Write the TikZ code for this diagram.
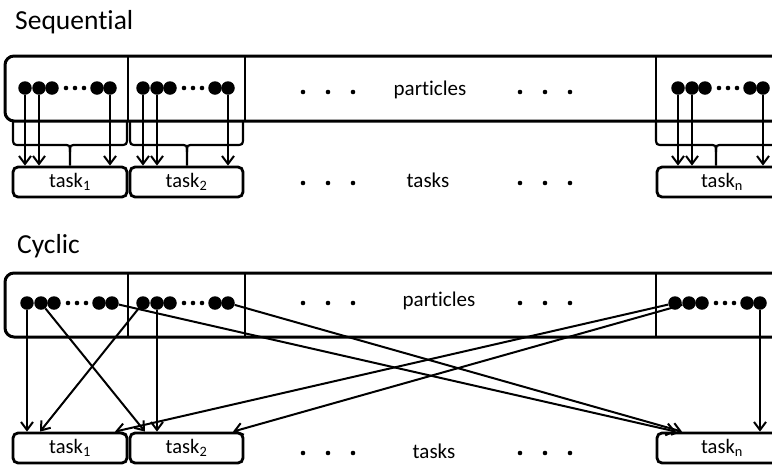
\documentclass[tikz,border=0pt]{standalone}
\usepackage{fontspec}
\setmainfont{Carlito}[Ligatures=NoCommon]
\usetikzlibrary{arrows.meta,calc}

\tikzset{
  pbox/.style={line width=3pt, rounded corners=9pt},
  divider/.style={line width=2.2pt},
  bigdot/.style={circle, fill=black, inner sep=0pt, minimum size=13.5pt},
  smalldot/.style={circle, fill=black, inner sep=0pt, minimum size=4.6pt},
  taskbox/.style={draw, line width=2.8pt, rounded corners=5pt, minimum height=30pt,
    inner sep=0pt, font=\fontsize{20.5}{24}\selectfont},
  link/.style={line width=2pt, -{Straight Barb[length=8pt,width=12pt]}},
  bracepath/.style={line width=2.2pt},
  headtext/.style={font=\fontsize{27.5}{32}\selectfont, anchor=base west, inner sep=0pt},
  rowtext/.style={font=\fontsize{21}{25}\selectfont, inner sep=0pt}
}

% one block of particles: three dots, a gap of small dots, two dots
\newcommand{\dotgroup}[3]{%
  \node[bigdot]   (#1a) at (#2,#3) {};
  \node[bigdot]   (#1b) at ({#2+14},#3) {};
  \node[bigdot]   (#1c) at ({#2+27},#3) {};
  \node[smalldot] (#1d) at ({#2+41},#3) {};
  \node[smalldot] (#1e) at ({#2+50},#3) {};
  \node[smalldot] (#1f) at ({#2+59},#3) {};
  \node[bigdot]   (#1g) at ({#2+72},#3) {};
  \node[bigdot]   (#1h) at ({#2+85},#3) {};
}

% three spaced dots standing for the elided columns
\newcommand{\ellipsisdots}[3]{%
  \node[smalldot] (#1a) at (#2,#3) {};
  \node[smalldot] (#1b) at ({#2+25},#3) {};
  \node[smalldot] (#1c) at ({#2+50},#3) {};
}

% brace under a block: left end, cusp, right end, top y, bar y, task node
\newcommand{\blockbrace}[6]{%
  \draw[bracepath] (#1,#4) -- (#1,{#5-8}) .. controls (#1,#5) .. ({#1+8},#5)
    -- ({#2-7},#5) .. controls (#2,#5) .. (#2,{#5+7}) -- (#6.north -| #2,0);
  \draw[bracepath] (#2,{#5+7}) .. controls (#2,#5) .. ({#2+7},#5)
    -- ({#3-8},#5) .. controls (#3,#5) .. (#3,{#5-8}) -- (#3,#4);
}

\begin{document}
\begin{tikzpicture}[x=1pt, y=-1pt]
\useasboundingbox (0,0) rectangle (772,464);
\clip (0,0) rectangle (772,464);

% ---------------- Sequential ----------------
\node[headtext] (seqtitle) at (15,29) {Sequential};

\draw[pbox] (800,56) -- (5,56) -- (5,121) -- (800,121);
\draw[divider] (128,56) -- (128,121);
\draw[divider] (245,56) -- (245,121);
\draw[divider] (656,56) -- (656,121);

\dotgroup{s1}{25}{88}
\dotgroup{s2}{143}{88}
\dotgroup{sn}{678}{88}
\ellipsisdots{sp1}{303}{92}
\ellipsisdots{sp2}{520}{92}
\node[rowtext] (seqparticles) at (430,90) {particles};

\node[taskbox, minimum width=114pt] (st1) at (70,182) {task\textsubscript{1}};
\node[taskbox, minimum width=113pt] (st2) at (186.5,182) {task\textsubscript{2}};
\node[taskbox, minimum width=130pt] (stn) at (722,182) {task\textsubscript{n}};
\ellipsisdots{st1d}{303}{183}
\ellipsisdots{st2d}{520}{183}
\node[rowtext] (seqtasks) at (428,180) {tasks};

\blockbrace{13}{70}{127}{121}{145}{st1}
\blockbrace{130}{187}{243}{121}{145}{st2}
\blockbrace{656}{716}{776}{121}{145}{stn}

\foreach \g/\t in {s1/st1, s2/st2, sn/stn}{
  \draw[link] (\g a) -- (\g a |- \t.north);
  \draw[link] (\g b) -- (\g b |- \t.north);
  \draw[link] (\g h) -- (\g h |- \t.north);
}

% ---------------- Cyclic ----------------
\node[headtext] (cyctitle) at (17,253) {Cyclic};

\draw[pbox] (800,273) -- (5,273) -- (5,337) -- (800,337);
\draw[divider] (128,273) -- (128,337);
\draw[divider] (245,273) -- (245,337);
\draw[divider] (656,273) -- (656,337);

\dotgroup{c1}{27}{303}
\dotgroup{c2}{143}{303}
\dotgroup{cn}{675}{303}
\ellipsisdots{cp1}{303}{303}
\ellipsisdots{cp2}{520}{303}
\node[rowtext] (cycparticles) at (439,301) {particles};

\node[taskbox, minimum width=114pt] (ct1) at (70,448) {task\textsubscript{1}};
\node[taskbox, minimum width=113pt] (ct2) at (186.5,448) {task\textsubscript{2}};
\node[taskbox, minimum width=130pt] (ctn) at (722,448) {task\textsubscript{n}};
\ellipsisdots{ct1d}{303}{453}
\ellipsisdots{ct2d}{520}{453}
\node[rowtext] (cyctasks) at (434,451) {tasks};

% landing points on the task boxes
\coordinate (ct1b) at (ct1.north -| 40,0);
\coordinate (ct1c) at (ct1.north -| 115,0);
\coordinate (ct2a) at (ct2.north -| 145,0);
\coordinate (ct2c) at (ct2.north -| 233,0);
\coordinate (ctna) at (ctn.north -| 676,0);
\coordinate (ctnb) at (ctn.north -| 682,0);

\draw[link] (c1a) -- (c1a |- ct1.north);
\draw[link] (c1b) -- (ct2a);
\draw[link] (c1h) -- (ctna);
\draw[link] (c2a) -- (ct1b);
\draw[link] (c2b) -- (c2b |- ct2.north);
\draw[link] (c2h) -- (ctnb);
\draw[link] (cna) -- (ct1c);
\draw[link] (cnb) -- (ct2c);
\draw[link] (cnh) -- (cnh |- ctn.north);
\end{tikzpicture}
\end{document}
